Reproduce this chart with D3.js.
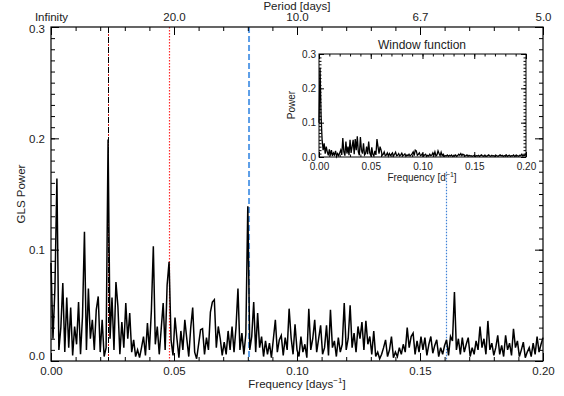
<!DOCTYPE html>
<html lang="en">
<head>
<meta charset="UTF-8" />
<title>GLS periodogram</title>
<script src="https://d3js.org/d3.v7.min.js"></script>
<style>
  body { margin: 0; background: #fff; }
  text { font-family: "Liberation Sans", Arial, Helvetica, sans-serif; fill: #222; }
  .tick line { stroke: #000; }
</style>
</head>
<body>
<svg width="564" height="396"></svg>
<script>
// GLS periodogram, sampled every glsStep in frequency (days^-1)
const glsStep = 0.0008;
const glsPower = [
  0.088, 0.020, 0.066, 0.164, 0.010, 0.030, 0.070, 0.008, 0.057, 0.012,
  0.048, 0.005, 0.031, 0.015, 0.053, 0.006, 0.040, 0.116, 0.010, 0.065,
  0.020, 0.037, 0.010, 0.046, 0.058, 0.008, 0.037, 0.004, 0.012, 0.199,
  0.020, 0.057, 0.010, 0.071, 0.049, 0.006, 0.035, 0.012, 0.052, 0.020,
  0.043, 0.008, 0.019, 0.004, 0.010, 0.003, 0.012, 0.022, 0.005, 0.034,
  0.010, 0.045, 0.103, 0.015, 0.031, 0.006, 0.029, 0.052, 0.010, 0.068,
  0.089, 0.019, 0.005, 0.039, 0.020, 0.003, 0.027, 0.010, 0.037, 0.020,
  0.004, 0.030, 0.048, 0.008, 0.002, 0.015, 0.028, 0.029, 0.006, 0.021,
  0.010, 0.044, 0.053, 0.055, 0.012, 0.031, 0.020, 0.005, 0.017, 0.006,
  0.027, 0.010, 0.031, 0.008, 0.030, 0.065, 0.010, 0.025, 0.006, 0.024,
  0.139, 0.010, 0.022, 0.053, 0.008, 0.043, 0.012, 0.022, 0.004, 0.018,
  0.006, 0.016, 0.003, 0.020, 0.037, 0.008, 0.019, 0.023, 0.005, 0.021,
  0.010, 0.047, 0.021, 0.006, 0.033, 0.010, 0.004, 0.022, 0.008, 0.015,
  0.003, 0.047, 0.010, 0.020, 0.037, 0.008, 0.020, 0.032, 0.006, 0.012,
  0.032, 0.005, 0.046, 0.012, 0.018, 0.004, 0.021, 0.008, 0.015, 0.052,
  0.010, 0.020, 0.050, 0.012, 0.025, 0.008, 0.031, 0.020, 0.035, 0.010,
  0.036, 0.015, 0.022, 0.006, 0.027, 0.004, 0.008, 0.002, 0.006, 0.012,
  0.019, 0.004, 0.010, 0.022, 0.003, 0.008, 0.004, 0.012, 0.006, 0.015,
  0.008, 0.030, 0.012, 0.022, 0.025, 0.006, 0.018, 0.008, 0.022, 0.010,
  0.021, 0.005, 0.015, 0.022, 0.007, 0.014, 0.019, 0.004, 0.012, 0.006,
  0.014, 0.019, 0.005, 0.022, 0.018, 0.062, 0.010, 0.020, 0.006, 0.021,
  0.008, 0.015, 0.021, 0.004, 0.012, 0.006, 0.018, 0.010, 0.031, 0.012,
  0.020, 0.006, 0.036, 0.010, 0.016, 0.005, 0.012, 0.023, 0.006, 0.014,
  0.004, 0.023, 0.010, 0.016, 0.005, 0.029, 0.012, 0.018, 0.004, 0.010,
  0.017, 0.003, 0.008, 0.012, 0.004, 0.016, 0.006, 0.022, 0.008, 0.015,
  0.021
];

// window function, sampled every winStep
const winStep = 0.001;
const winPower = [
  0.100, 0.260, 0.120, 0.050, 0.020, 0.040, 0.010, 0.030, 0.015, 0.005,
  0.022, 0.004, 0.020, 0.003, 0.012, 0.006, 0.018, 0.002, 0.010, 0.004,
  0.012, 0.020, 0.006, 0.055, 0.015, 0.004, 0.045, 0.010, 0.030, 0.005,
  0.050, 0.012, 0.030, 0.050, 0.008, 0.052, 0.020, 0.060, 0.015, 0.005,
  0.058, 0.020, 0.010, 0.040, 0.006, 0.010, 0.030, 0.008, 0.045, 0.012,
  0.004, 0.028, 0.008, 0.003, 0.018, 0.006, 0.052, 0.030, 0.010, 0.030,
  0.020, 0.005, 0.008, 0.015, 0.004, 0.006, 0.012, 0.003, 0.010, 0.004,
  0.008, 0.012, 0.003, 0.008, 0.014, 0.004, 0.005, 0.010, 0.003, 0.006,
  0.011, 0.004, 0.006, 0.009, 0.002, 0.006, 0.004, 0.008, 0.003, 0.006,
  0.010, 0.015, 0.004, 0.020, 0.018, 0.005, 0.008, 0.012, 0.004, 0.006,
  0.010, 0.003, 0.006, 0.008, 0.002, 0.005, 0.003, 0.008, 0.004, 0.006,
  0.012, 0.005, 0.015, 0.003, 0.006, 0.018, 0.010, 0.004, 0.014, 0.004,
  0.008, 0.002, 0.004, 0.003, 0.006, 0.002, 0.005, 0.003, 0.006, 0.002,
  0.004, 0.003, 0.006, 0.002, 0.004, 0.008, 0.005, 0.010, 0.004, 0.008,
  0.006, 0.003, 0.004, 0.006, 0.002, 0.005, 0.003, 0.004, 0.002, 0.003,
  0.005, 0.002, 0.004, 0.003, 0.005, 0.002, 0.004, 0.006, 0.003, 0.002,
  0.005, 0.003, 0.002, 0.004, 0.006, 0.003, 0.002, 0.005, 0.003, 0.004,
  0.002, 0.005, 0.003, 0.002, 0.004, 0.006, 0.003, 0.005, 0.002, 0.004,
  0.003, 0.006, 0.002, 0.004, 0.005, 0.002, 0.004, 0.003, 0.006, 0.002,
  0.004, 0.005, 0.003, 0.002, 0.005, 0.004, 0.008, 0.003, 0.006, 0.004,
  0.010
];

const freqTicks = [0, 0.05, 0.10, 0.15, 0.20];
const freqMinor = [0, 0.01, 0.02, 0.03, 0.04, 0.05, 0.06, 0.07, 0.08, 0.09, 0.10,
                   0.11, 0.12, 0.13, 0.14, 0.15, 0.16, 0.17, 0.18, 0.19, 0.20];
const powerTicks = [0, 0.1, 0.2, 0.3];
const periodLabels = ["Infinity", "20.0", "10.0", "6.7", "5.0"];

// marked frequencies: two candidates, a harmonic, an alias
const candFreq = 0.0233;
const harmFreq = 0.0481;
const mainFreq = 0.0805;
const aliasFreq = 0.1605;
const aliasTop = 0.17;

const svg = d3.select("svg");
const W = 564, H = 396;
svg.append("rect").attr("width", W).attr("height", H).attr("fill", "#fff");

const x = d3.scaleLinear().domain([0, 0.2]).range([51, 543]);
const y = d3.scaleLinear().domain([0, 0.3]).range([361, 27]);
const px = f => Math.round(x(f)) + 0.5;

const font = '"Liberation Sans", Arial, Helvetica, sans-serif';

function styleAxis(g, size) {
  g.select(".domain").remove();
  g.selectAll(".tick text").attr("font-family", font).attr("font-size", size).attr("fill", "#222");
  g.selectAll(".tick line").attr("stroke", "#000");
}

// vertical markers (behind the data)
const marks = svg.append("g");
marks.append("line")
  .attr("x1", x(mainFreq)).attr("x2", x(mainFreq))
  .attr("y1", y(0.3)).attr("y2", y(0))
  .attr("stroke", "#5c9ee8").attr("stroke-width", 2).attr("stroke-dasharray", "6,3");
marks.append("line")
  .attr("x1", px(candFreq)).attr("x2", px(candFreq))
  .attr("y1", y(0.3)).attr("y2", y(0))
  .attr("stroke", "#000").attr("stroke-width", 1).attr("stroke-dasharray", "6,4");
marks.append("line")
  .attr("x1", px(candFreq)).attr("x2", px(candFreq))
  .attr("y1", y(0.3)).attr("y2", y(0))
  .attr("stroke", "#e01010").attr("stroke-width", 1).attr("stroke-dasharray", "2,8")
  .attr("stroke-dashoffset", -7);
marks.append("line")
  .attr("x1", px(harmFreq)).attr("x2", px(harmFreq))
  .attr("y1", y(0.3)).attr("y2", y(0))
  .attr("stroke", "#ff2a2a").attr("stroke-width", 1.2).attr("stroke-dasharray", "1.5,1.5");
marks.append("line")
  .attr("x1", px(aliasFreq)).attr("x2", px(aliasFreq))
  .attr("y1", y(aliasTop)).attr("y2", y(0))
  .attr("stroke", "#3d80d6").attr("stroke-width", 1.2).attr("stroke-dasharray", "1.5,1.5");

// periodogram
const line = d3.line()
  .x((d, i) => x(i * glsStep))
  .y(d => y(d));
svg.append("path")
  .datum(glsPower)
  .attr("d", line)
  .attr("fill", "none")
  .attr("stroke", "#000")
  .attr("stroke-width", 1.5)
  .attr("stroke-linejoin", "miter");

// axes, ticks pointing inward
svg.append("g").attr("transform", "translate(0,361)")
  .call(d3.axisBottom(x).tickValues(freqMinor).tickSize(-4).tickFormat(""))
  .call(g => styleAxis(g, 11));
svg.append("g").attr("transform", "translate(0,361)")
  .call(d3.axisBottom(x).tickValues(freqTicks).tickSize(-8).tickPadding(6).tickFormat(d3.format(".2f")))
  .call(g => styleAxis(g, 11.5));

svg.append("g").attr("transform", "translate(0,27)")
  .call(d3.axisTop(x).tickValues(freqMinor).tickSize(-4).tickFormat(""))
  .call(g => styleAxis(g, 11));
svg.append("g").attr("transform", "translate(0,27)")
  .call(d3.axisTop(x).tickValues(freqTicks).tickSize(-8).tickPadding(6)
    .tickFormat((d, i) => periodLabels[i]))
  .call(g => styleAxis(g, 11.5));

const powerMinor = d3.range(0, 31).map(k => k / 100);
svg.append("g").attr("transform", "translate(51,0)")
  .call(d3.axisLeft(y).tickValues(powerMinor).tickSize(-4).tickFormat(""))
  .call(g => styleAxis(g, 11));
svg.append("g").attr("transform", "translate(51,0)")
  .call(d3.axisLeft(y).tickValues(powerTicks).tickSize(-8).tickPadding(6).tickFormat(d3.format(".1f")))
  .call(g => styleAxis(g, 11.5))
  .call(g => g.selectAll(".tick text").filter(d => d === 0).attr("dy", "-0.1em"))
  .call(g => g.selectAll(".tick text").filter(d => d === 0.3).attr("dy", "0.45em"));
svg.append("g").attr("transform", "translate(543,0)")
  .call(d3.axisRight(y).tickValues(powerMinor).tickSize(-4).tickFormat(""))
  .call(g => styleAxis(g, 11));
svg.append("g").attr("transform", "translate(543,0)")
  .call(d3.axisRight(y).tickValues(powerTicks).tickSize(-8).tickFormat(""))
  .call(g => styleAxis(g, 11));

// frame
svg.append("rect")
  .attr("x", 51).attr("y", 27).attr("width", 492).attr("height", 334)
  .attr("fill", "none").attr("stroke", "#000").attr("stroke-width", 1.2);

// axis titles
const fx = svg.append("text")
  .attr("x", 297).attr("y", 388).attr("text-anchor", "middle")
  .attr("font-family", font).attr("font-size", 11.5);
fx.append("tspan").text("Frequency [days");
fx.append("tspan").attr("dy", -5).attr("font-size", 8).text("\u22121");
fx.append("tspan").attr("dy", 5).text("]");

svg.append("text")
  .attr("x", 297).attr("y", 10).attr("text-anchor", "middle")
  .attr("font-family", font).attr("font-size", 11.5)
  .text("Period [days]");

svg.append("text")
  .attr("transform", "translate(25,194) rotate(-90)")
  .attr("text-anchor", "middle")
  .attr("font-family", font).attr("font-size", 11.5)
  .text("GLS Power");

// inset: window function
const ix = d3.scaleLinear().domain([0, 0.2]).range([319, 526]);
const iy = d3.scaleLinear().domain([0, 0.3]).range([157, 54]);
const inset = svg.append("g");

inset.append("rect")
  .attr("x", 319).attr("y", 54).attr("width", 207).attr("height", 103)
  .attr("fill", "#fff");

inset.append("path")
  .datum(winPower)
  .attr("d", d3.line().x((d, i) => ix(i * winStep)).y(d => iy(d)))
  .attr("fill", "none").attr("stroke", "#000").attr("stroke-width", 1.3);

inset.append("g").attr("transform", "translate(0,157)")
  .call(d3.axisBottom(ix).tickValues(freqMinor).tickSize(-2.5).tickFormat(""))
  .call(g => styleAxis(g, 10));
inset.append("g").attr("transform", "translate(0,157)")
  .call(d3.axisBottom(ix).tickValues(freqTicks).tickSize(-5).tickPadding(6).tickFormat(d3.format(".2f")))
  .call(g => styleAxis(g, 10));
inset.append("g").attr("transform", "translate(0,54)")
  .call(d3.axisTop(ix).tickValues(freqMinor).tickSize(-2.5).tickFormat(""))
  .call(g => styleAxis(g, 10));
inset.append("g").attr("transform", "translate(0,54)")
  .call(d3.axisTop(ix).tickValues(freqTicks).tickSize(-5).tickFormat(""))
  .call(g => styleAxis(g, 10));
inset.append("g").attr("transform", "translate(319,0)")
  .call(d3.axisLeft(iy).tickValues(powerMinor).tickSize(-2.5).tickFormat(""))
  .call(g => styleAxis(g, 10));
inset.append("g").attr("transform", "translate(319,0)")
  .call(d3.axisLeft(iy).tickValues(powerTicks).tickSize(-5).tickPadding(3).tickFormat(d3.format(".1f")))
  .call(g => styleAxis(g, 10));
inset.append("g").attr("transform", "translate(526,0)")
  .call(d3.axisRight(iy).tickValues(powerMinor).tickSize(-2.5).tickFormat(""))
  .call(g => styleAxis(g, 10));
inset.append("g").attr("transform", "translate(526,0)")
  .call(d3.axisRight(iy).tickValues(powerTicks).tickSize(-5).tickFormat(""))
  .call(g => styleAxis(g, 10));

inset.append("rect")
  .attr("x", 319).attr("y", 54).attr("width", 207).attr("height", 103)
  .attr("fill", "none").attr("stroke", "#000").attr("stroke-width", 1);

inset.append("text")
  .attr("x", 422).attr("y", 49).attr("text-anchor", "middle")
  .attr("font-family", font).attr("font-size", 12)
  .text("Window function");

const ifx = inset.append("text")
  .attr("x", 422).attr("y", 181).attr("text-anchor", "middle")
  .attr("font-family", font).attr("font-size", 10);
ifx.append("tspan").text("Frequency [d");
ifx.append("tspan").attr("dy", -4).attr("font-size", 7).text("\u22121");
ifx.append("tspan").attr("dy", 4).text("]");

inset.append("text")
  .attr("transform", "translate(295,105) rotate(-90)")
  .attr("text-anchor", "middle")
  .attr("font-family", font).attr("font-size", 10)
  .text("Power");
</script>
</body>
</html>
